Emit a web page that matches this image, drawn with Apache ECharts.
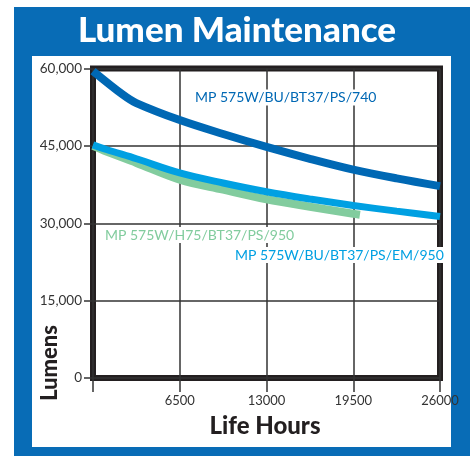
<!DOCTYPE html>
<html>
<head>
<meta charset="utf-8">
<script src="https://cdn.jsdelivr.net/npm/echarts@6/dist/echarts.min.js"></script>
<style>
  html, body { margin: 0; padding: 0; background: #fff; }
  #chart { width: 474px; height: 457px; }
</style>
</head>
<body>
<div id="chart"></div>
<script>
// life hours and lumen readings for each lamp
const hours740 = [0, 2250, 3250, 6500, 9750, 13000, 16250, 19500, 22750, 26000]
const lumens740 = [59500, 54900, 53300, 50000, 47300, 44800, 42500, 40400, 38700, 37200]

const hoursEm950 = [0, 1000, 3250, 6500, 9750, 13000, 16250, 19500, 22750, 26000]
const lumensEm950 = [45200, 44300, 42500, 39750, 37800, 36100, 34700, 33450, 32350, 31300]

const hoursH75 = [0, 1000, 3250, 6500, 9750, 13000, 16250, 19500, 20000]
const lumensH75 = [45000, 43900, 41700, 38450, 36500, 34650, 33200, 31850, 31650]

const xTicks = [6500, 13000, 19500, 26000]
const yTicks = [0, 15000, 30000, 45000, 60000]

const darkBlue = '#0068b4'
const lightBlue = '#00a0e2'
const green = '#82cc9e'
const labelFont = 'Lato, "Noto Sans", sans-serif'

function pairs(xs, ys) {
  return xs.map((x, i) => [x, ys[i]])
}

function curveLabel(text, x, y, color) {
  return {
    type: 'text', x: x, y: y, z: 10,
    style: {
      text: text, fill: color, font: '14px ' + labelFont,
      textAlign: 'left', textVerticalAlign: 'middle',
      backgroundColor: '#fff', padding: [1, 2]
    }
  }
}

const chart = echarts.init(document.getElementById('chart'))

const option = {
  animation: false,
  backgroundColor: '#fff',
  grid: {
    left: 93,
    top: 68.5,
    right: 34,
    bottom: 79,
    show: true,
    borderColor: '#231f20',
    borderWidth: 6,
    backgroundColor: '#fff'
  },
  xAxis: {
    type: 'value',
    min: 0,
    max: xTicks[xTicks.length - 1],
    interval: xTicks[0],
    axisLine: { show: false },
    axisTick: { show: true, length: 14, lineStyle: { color: '#333', width: 1.5 } },
    splitLine: { show: true, lineStyle: { color: '#333', width: 1.5 } },
    axisLabel: {
      color: '#333',
      fontFamily: labelFont,
      fontSize: 13,
      margin: 16,
      formatter: v => (xTicks.includes(v) ? String(v) : '')
    }
  },
  yAxis: {
    type: 'value',
    min: yTicks[0],
    max: yTicks[yTicks.length - 1],
    interval: yTicks[1] - yTicks[0],
    axisLine: { show: false },
    axisTick: { show: true, length: 9, lineStyle: { color: '#333', width: 1.5 } },
    splitLine: { show: true, lineStyle: { color: '#333', width: 1.5 } },
    axisLabel: {
      color: '#333',
      fontFamily: labelFont,
      fontSize: 13.5,
      margin: 11,
      formatter: v => v.toLocaleString('en-US')
    }
  },
  graphic: [
    { type: 'rect', z: -20, shape: { x: 14, y: 7, width: 456, height: 449 }, style: { fill: '#086cb6' } },
    { type: 'rect', z: -19, shape: { x: 32, y: 56, width: 419, height: 391 }, style: { fill: '#fff' } },
    {
      type: 'text', x: 237, y: 31,
      style: { text: 'Lumen Maintenance', fill: '#fff', font: '900 35px ' + labelFont, textAlign: 'center', textVerticalAlign: 'middle' }
    },
    {
      type: 'text', x: 265, y: 426,
      style: { text: 'Life Hours', fill: '#231f20', font: '900 24px ' + labelFont, textAlign: 'center', textVerticalAlign: 'middle' }
    },
    {
      type: 'text', x: 50, y: 363, rotation: Math.PI / 2,
      style: { text: 'Lumens', fill: '#231f20', font: '900 22px ' + labelFont, textAlign: 'center', textVerticalAlign: 'middle' }
    },
    curveLabel('MP 575W/BU/BT37/PS/740', 193, 97.5, darkBlue),
    curveLabel('MP 575W/H75/BT37/PS/950', 103, 235, green),
    curveLabel('MP 575W/BU/BT37/PS/EM/950', 233, 255, lightBlue)
  ],
  series: [
    {
      name: 'MP 575W/BU/BT37/PS/740',
      type: 'line',
      data: pairs(hours740, lumens740),
      smooth: 0.35,
      symbol: 'none',
      lineStyle: { color: darkBlue, width: 8 },
      z: 3
    },
    {
      name: 'MP 575W/H75/BT37/PS/950',
      type: 'line',
      data: pairs(hoursH75, lumensH75),
      smooth: 0.35,
      symbol: 'none',
      lineStyle: { color: green, width: 8, cap: 'butt' },
      z: 2
    },
    {
      name: 'MP 575W/BU/BT37/PS/EM/950',
      type: 'line',
      data: pairs(hoursEm950, lumensEm950),
      smooth: 0.35,
      symbol: 'none',
      lineStyle: { color: lightBlue, width: 7 },
      z: 4
    }
  ]
}

chart.setOption(option)
window.addEventListener('resize', () => chart.resize())
</script>
</body>
</html>
